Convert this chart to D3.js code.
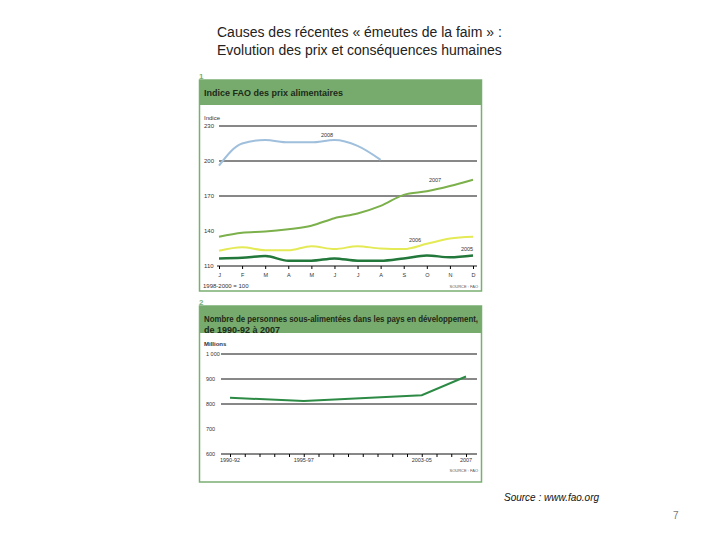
<!DOCTYPE html>
<html>
<head>
<meta charset="utf-8">
<script src="https://cdn.jsdelivr.net/npm/d3@7"></script>
<style>
  body { margin: 0; background: #fff; }
  svg text { font-family: "Liberation Sans", Arial, sans-serif; }
</style>
</head>
<body>
<div id="chart"></div>
<script>
// panel 1 : FAO food price index, monthly
var months = ["J", "F", "M", "A", "M", "J", "J", "A", "S", "O", "N", "D"];
var priceTicks = [110, 140, 170, 200, 230];
var gridPrice = [170, 200, 230];
var price2008 = [196, 215, 218, 216, 216, 218, 213, 201];
var price2007 = [135, 138.5, 139.5, 141.5, 144.5, 151, 155, 161.5, 171, 174, 178.5, 184];
var price2006 = [123, 126, 123.5, 123.5, 127, 124.5, 127, 125, 124.5, 129, 133.5, 135];
var price2005 = [116.5, 117, 118.5, 114.5, 114.5, 116.5, 114.5, 114.5, 116.5, 119, 117.5, 119];

// panel 2 : undernourished people, millions
var hungerYears = [1991, 1996, 2004, 2007];
var hungerValues = [825, 812, 835, 910];
var hungerTicks = [600, 700, 800, 900, 1000];
var gridHunger = [800, 900, 1000];
var yearLabels = [{year: 1991, text: "1990-92"}, {year: 1996, text: "1995-97"},
                  {year: 2004, text: "2003-05"}, {year: 2007, text: "2007"}];

var svg = d3.select("#chart").append("svg")
            .attr("width", 720)
            .attr("height", 540);

var boxGreen = "#7aae72",
    headerGreen = "#77ab6d";

// slide title
svg.append("text").attr("x", 217).attr("y", 37)
   .style("font-size", "14px").attr("fill", "#222")
   .text("Causes des récentes « émeutes de la faim » :");
svg.append("text").attr("x", 217).attr("y", 55)
   .style("font-size", "14px").attr("fill", "#222")
   .text("Evolution des prix et conséquences humaines");

function drawBox(top, bottom, headerBottom, num, titleLines) {
    svg.append("rect")
       .attr("x", 199.5).attr("y", top)
       .attr("width", 282).attr("height", bottom - top)
       .attr("fill", "#fff").attr("stroke", boxGreen).attr("stroke-width", 1.5);
    svg.append("rect")
       .attr("x", 199.5).attr("y", top)
       .attr("width", 282).attr("height", headerBottom - top)
       .attr("fill", headerGreen);
    svg.append("text").attr("x", 199).attr("y", top - 1)
       .style("font-size", "8px").attr("fill", boxGreen).attr("font-weight", "bold")
       .text(num);
    titleLines.forEach(function(t, i) {
        svg.append("text")
           .attr("x", 204).attr("y", top + 16 + i * 11)
           .style("font-size", "9px").attr("font-weight", "bold")
           .attr("fill", "#1d2a18")
           .text(t);
    });
}

drawBox(80, 291, 105, "1", ["Indice FAO des prix alimentaires"]);
drawBox(306, 482, 333, "2", ["Nombre de personnes sous-alimentées dans les pays en développement,",
                              "de 1990-92 à 2007"]);
// second title is wide, squeeze it into the band
svg.selectAll("text").filter(function() { return this.textContent.indexOf("Nombre") === 0; })
   .attr("textLength", 274).attr("lengthAdjust", "spacingAndGlyphs");

// ---------- panel 1 ----------
var x1 = d3.scalePoint().domain(d3.range(12)).range([219, 473]);
var y1 = d3.scaleLinear().domain([110, 230]).range([266, 126]);

var g1 = svg.append("g");

g1.selectAll(".grid1").data(gridPrice).enter()
  .append("line")
  .attr("x1", 219).attr("x2", 477)
  .attr("y1", function(d) { return y1(d); })
  .attr("y2", function(d) { return y1(d); })
  .attr("stroke", "#111").attr("stroke-width", 1);

g1.selectAll(".ylab1").data(priceTicks).enter()
  .append("text")
  .attr("x", 204).attr("y", function(d) { return y1(d) + 2; })
  .style("font-size", "6px").attr("fill", "#333")
  .text(function(d) { return d; });

g1.append("text").attr("x", 204).attr("y", 120)
  .style("font-size", "6px").attr("fill", "#333").text("Indice");

var xAxis1 = d3.axisBottom(x1).tickSize(3).tickSizeOuter(0)
               .tickFormat(function(i) { return months[i]; });
var ax1 = g1.append("g").attr("transform", "translate(0,266)").call(xAxis1);
ax1.select(".domain").attr("d", "M217,0H477").attr("stroke", "#111");
ax1.selectAll("text").style("font-size", "5.5px").attr("fill", "#333").attr("dy", "0.9em");

var line1 = d3.line()
              .x(function(d, i) { return x1(i); })
              .y(function(d) { return y1(d); })
              .curve(d3.curveMonotoneX);

var series1 = [
    {name: "2008", values: price2008, color: "#9fbfdc", width: 2, lx: 327, ly: 137},
    {name: "2007", values: price2007, color: "#7bb04b", width: 2, lx: 435, ly: 182},
    {name: "2006", values: price2006, color: "#e4ea55", width: 2, lx: 415, ly: 242},
    {name: "2005", values: price2005, color: "#22783a", width: 2.5, lx: 467, ly: 251}
];

g1.selectAll(".s1").data(series1).enter()
  .append("path")
  .attr("d", function(d) { return line1(d.values); })
  .attr("fill", "none")
  .attr("stroke", function(d) { return d.color; })
  .attr("stroke-width", function(d) { return d.width; });

g1.selectAll(".s1lab").data(series1).enter()
  .append("text")
  .attr("x", function(d) { return d.lx; })
  .attr("y", function(d) { return d.ly; })
  .attr("text-anchor", "middle")
  .style("font-size", "5.5px").attr("fill", "#333")
  .text(function(d) { return d.name; });

g1.append("text").attr("x", 203).attr("y", 288)
  .style("font-size", "6px").attr("fill", "#333").text("1998-2000 = 100");
g1.append("text").attr("x", 478).attr("y", 288).attr("text-anchor", "end")
  .style("font-size", "4px").attr("fill", "#555").text("SOURCE : FAO");

// ---------- panel 2 ----------
var x2 = d3.scaleLinear().domain([1991, 2007]).range([230, 466]);
var y2 = d3.scaleLinear().domain([600, 1000]).range([454, 354]);

var g2 = svg.append("g");

g2.selectAll(".grid2").data(gridHunger).enter()
  .append("line")
  .attr("x1", 221).attr("x2", 477)
  .attr("y1", function(d) { return y2(d); })
  .attr("y2", function(d) { return y2(d); })
  .attr("stroke", "#111").attr("stroke-width", 1);

g2.selectAll(".ylab2").data(hungerTicks).enter()
  .append("text")
  .attr("x", 206).attr("y", function(d) { return y2(d) + 2; })
  .style("font-size", "5.5px").attr("fill", "#333")
  .text(function(d) { return d3.format(",")(d).replace(",", " "); });

g2.append("text").attr("x", 204).attr("y", 346)
  .style("font-size", "6px").attr("font-weight", "bold").attr("fill", "#333").text("Millions");

var xAxis2 = d3.axisBottom(x2).tickValues(d3.range(1991, 2008)).tickSize(3)
               .tickSizeOuter(0).tickFormat("");
var ax2 = g2.append("g").attr("transform", "translate(0,454)").call(xAxis2);
ax2.select(".domain").attr("d", "M221,0H477").attr("stroke", "#111");

g2.selectAll(".xlab2").data(yearLabels).enter()
  .append("text")
  .attr("x", function(d) { return x2(d.year); })
  .attr("y", 462)
  .attr("text-anchor", "middle")
  .style("font-size", "5.5px").attr("fill", "#333")
  .text(function(d) { return d.text; });

var line2 = d3.line()
              .x(function(d, i) { return x2(hungerYears[i]); })
              .y(function(d) { return y2(d); })
              .curve(d3.curveLinear);

g2.append("path")
  .attr("d", line2(hungerValues))
  .attr("fill", "none")
  .attr("stroke", "#2c8a45")
  .attr("stroke-width", 2);

g2.append("text").attr("x", 478).attr("y", 472).attr("text-anchor", "end")
  .style("font-size", "4px").attr("fill", "#555").text("SOURCE : FAO");

// footer
svg.append("text").attr("x", 504).attr("y", 501)
   .style("font-size", "10px").style("font-style", "italic").attr("fill", "#111")
   .text("Source : www.fao.org");
svg.append("text").attr("x", 673).attr("y", 519)
   .style("font-size", "10px").attr("fill", "#777")
   .text("7");
</script>
</body>
</html>
